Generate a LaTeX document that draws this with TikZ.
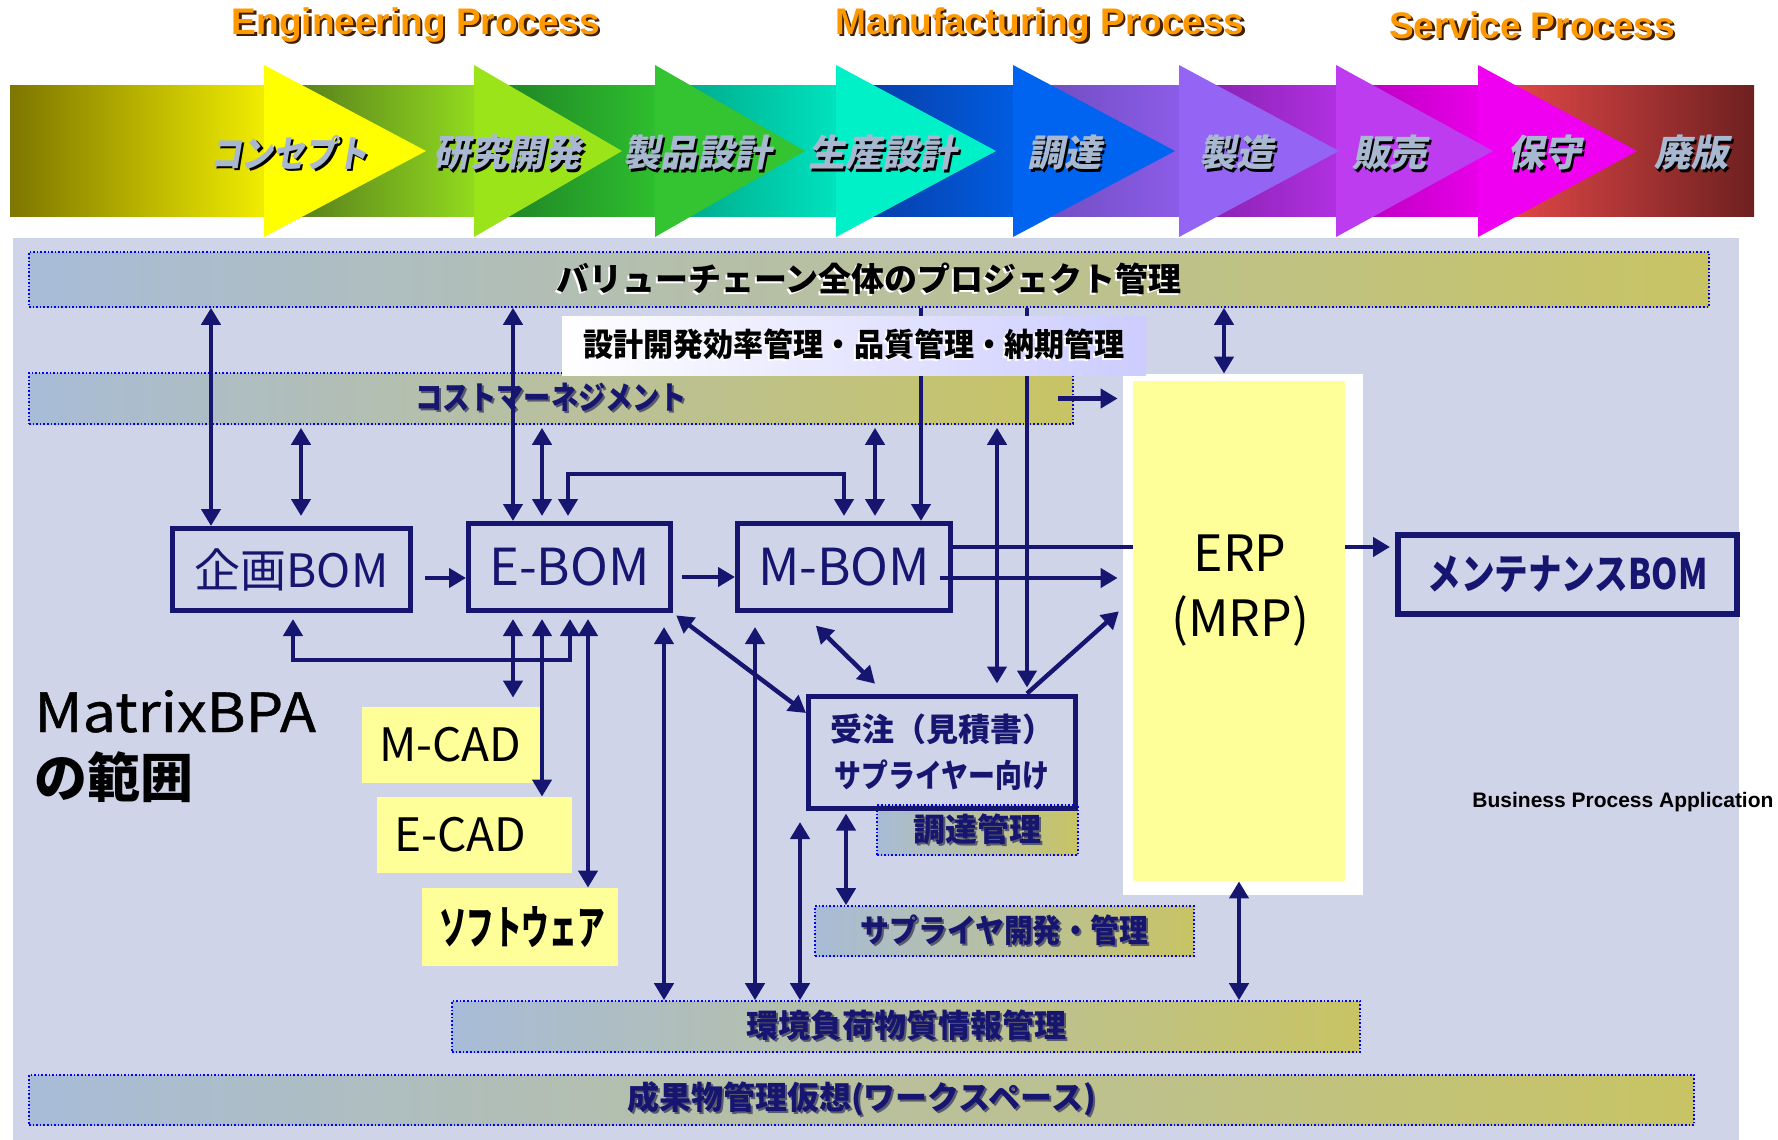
\documentclass[tikz,border=0pt]{standalone}
\usepackage{fontspec}
\usepackage{graphicx}
\setmainfont{Liberation Sans}
\newfontfamily\jp[CharacterWidth=Proportional]{Noto Sans CJK JP}
\newfontfamily\jpm[CharacterWidth=Proportional,FakeBold=0.8]{Noto Sans CJK JP}
\newfontfamily\jpb[CharacterWidth=Proportional]{Noto Sans CJK JP}
\newfontfamily\jpbf{Noto Sans CJK JP}
\newfontfamily\jpit[FakeSlant=0.2]{Noto Sans CJK JP}
\usetikzlibrary{arrows.meta}

\definecolor{navy}{RGB}{22,22,112}
\definecolor{panel}{RGB}{208,212,232}
\definecolor{barl}{RGB}{168,188,216}
\definecolor{barr}{RGB}{200,196,100}
\definecolor{mgmtr}{RGB}{204,204,255}
\definecolor{ylw}{RGB}{255,255,153}
\definecolor{ttlorange}{RGB}{255,153,0}
\definecolor{chevtxt}{RGB}{168,184,208}
\definecolor{shd}{RGB}{90,90,110}
% process band colours
\definecolor{a1l}{RGB}{125,118,0}   \definecolor{a1r}{RGB}{240,236,0}   \definecolor{a1h}{RGB}{255,255,0}
\definecolor{a2l}{RGB}{78,110,28}   \definecolor{a2r}{RGB}{145,218,30}  \definecolor{a2h}{RGB}{156,228,26}
\definecolor{a3l}{RGB}{30,122,36}   \definecolor{a3r}{RGB}{46,190,46}   \definecolor{a3h}{RGB}{52,196,50}
\definecolor{a4l}{RGB}{0,160,130}   \definecolor{a4r}{RGB}{0,226,190}   \definecolor{a4h}{RGB}{0,240,200}
\definecolor{a5l}{RGB}{10,56,156}   \definecolor{a5r}{RGB}{0,92,224}    \definecolor{a5h}{RGB}{0,100,240}
\definecolor{a6l}{RGB}{106,74,184}  \definecolor{a6r}{RGB}{140,92,232}  \definecolor{a6h}{RGB}{148,100,244}
\definecolor{a7l}{RGB}{128,32,168}  \definecolor{a7r}{RGB}{176,48,224}  \definecolor{a7h}{RGB}{190,60,240}
\definecolor{a8l}{RGB}{176,0,184}   \definecolor{a8r}{RGB}{232,0,232}   \definecolor{a8h}{RGB}{240,0,240}
\definecolor{a9l}{RGB}{240,76,76}   \definecolor{a9r}{RGB}{110,32,32}

\newcommand\shadowed[4]{\makebox[0pt][l]{\kern#2\raisebox{#3}{\color{#1}#4}}#4}

\tikzset{
  lnk/.style={draw=navy, line width=2.2pt},
  oneway/.style={lnk, -{Triangle[length=8.5pt,width=9.5pt]}},
  twoway/.style={lnk, {Triangle[length=8.5pt,width=9.5pt]}-{Triangle[length=8.5pt,width=9.5pt]}},
  bom/.style={draw=navy, line width=2.5pt, text=navy, inner sep=0, font=\jp\fontsize{23}{26}\selectfont},
  bar/.style={draw=blue, densely dotted, line width=0.8pt, left color=barl, right color=barr, inner sep=0, text=navy, font=\jpb\bfseries\fontsize{16}{18}\selectfont},
  ybox/.style={fill=ylw, inner xsep=8.5pt, inner ysep=0, align=left, font=\jp\fontsize{23}{26}\selectfont},
  chev/.style={font=\jpit\bfseries\fontsize{18.5}{22}\selectfont, text=chevtxt, inner sep=0},
  ttl/.style={font=\bfseries\fontsize{18.5}{22}\selectfont, text=ttlorange, inner sep=0},
}

\begin{document}
\begin{tikzpicture}[x=0.5pt,y=-0.5pt]
\useasboundingbox (0,0) rectangle (1778,1140);
\fill[white] (0,0) rectangle (1778,1140);

% process band
\fill[left color=a9l, right color=a9r] (1478,85) rectangle (1754,216);
\foreach \xs/\xb/\xt/\k in {1336/1478/1637/8, 1179/1336/1493/7, 1013/1179/1339/6, 836/1013/1175/5, 655/836/996/4, 474/655/805/3, 264/474/622/2, 10/264/426/1}{
  \fill[left color=a\k l, right color=a\k r] (\xs,85) rectangle (\xb,216);
  \fill[a\k h] (\xb,65) -- (\xt,151) -- (\xb,237) -- cycle;
}
\foreach \x/\w [count=\i] in {289/\scalebox{0.85}[1]{コンセプト}, 507/研究開発, 697/製品設計, 882/生産設計, 1064/調達, 1236/製造, 1389/販売, 1544/保守, 1691/廃版}
  \node[chev] (ph\i) at (\x,154) {\shadowed{black}{1.2pt}{-1.2pt}{\w}};

\node[ttl] (eng) at (416,26) {\shadowed{black!75!orange}{1.2pt}{-1.2pt}{Engineering Process}};
\node[ttl] (manu) at (1040,26) {\shadowed{black!75!orange}{1.2pt}{-1.2pt}{Manufacturing Process}};
\node[ttl] (serv) at (1532,26) {\shadowed{black!75!orange}{1.2pt}{-1.2pt}{Service Process}};

% scope panel
\fill[panel] (13,238) rectangle (1739,1140);

\node[bar, minimum width=840pt, minimum height=27.5pt, text=black, font=\jpb\bfseries\fontsize{16.5}{18}\selectfont] (topbar) at (869,279.5) {\shadowed{white}{-1pt}{-1pt}{バリューチェーン全体のプロジェクト管理}};
\node[bar, minimum width=522pt, minimum height=25.5pt] (costbar) at (551,398.5) {\shadowed{shd}{1pt}{-1pt}{\scalebox{0.85}[1]{コストマーネジメント}}};
\node[bar, minimum width=100.5pt, minimum height=25pt] (chotatsu) at (977.5,830) {\shadowed{shd}{1pt}{-1pt}{調達管理}};
\node[bar, minimum width=189.5pt, minimum height=25pt] (supplier) at (1004.5,931) {\shadowed{shd}{1pt}{-1pt}{\scalebox{0.9}[1]{サプライヤ開発・管理}}};
\node[bar, minimum width=454pt, minimum height=25.5pt] (kankyo) at (906,1026.5) {\shadowed{shd}{1pt}{-1pt}{環境負荷物質情報管理}};
\node[bar, minimum width=832.5pt, minimum height=25pt] (seika) at (861.5,1100) {\shadowed{shd}{1pt}{-1pt}{成果物管理仮想（ワークスペース）}};

\node[ybox, text width=72pt, minimum height=38pt] (mcad) at (451,745) {M-CAD};
\node[ybox, text width=80.5pt, minimum height=38pt] (ecad) at (474.5,835) {E-CAD};
\node[ybox, text width=81pt, minimum height=39pt, font=\jpb\bfseries\fontsize{23}{25}\selectfont] (soft) at (520,927) {\scalebox{0.6}[1]{ソフトウェア}};

\node[fill=white, minimum width=120pt, minimum height=260.5pt, inner sep=0] (erpw) at (1243,634.5) {};
\node[fill=ylw, minimum width=106pt, minimum height=250pt, inner sep=0] (erp) at (1239,631) {};
\node[font=\jp\fontsize{25}{32.5}\selectfont, align=center, inner sep=0] (erptxt) at (1240,591) {ERP\\（MRP）};

\node[bom, minimum width=119pt, minimum height=41pt] (kikaku) at (291.5,569.5) {企画BOM};
\node[bom, minimum width=101pt, minimum height=43.5pt, font=\jp\fontsize{25.5}{28}\selectfont] (ebom) at (569.5,567) {E-BOM};
\node[bom, minimum width=106.5pt, minimum height=43.5pt, font=\jp\fontsize{25.5}{28}\selectfont] (mbom) at (844,567) {M-BOM};
\node[bom, minimum width=133.5pt, minimum height=56pt, align=center, font=\jpbf\bfseries\fontsize{16}{23}\selectfont] (juchu) at (942,752) {受注（見積書）\\\scalebox{0.84}[1]{サプライヤー向け}};
\node[bom, line width=3pt, minimum width=169.5pt, minimum height=39.5pt, font=\jpb\bfseries\fontsize{21}{24}\selectfont] (maint) at (1567.5,574.5) {\scalebox{0.8}[1]{メンテナンスBOM}};

\node[anchor=base west, inner sep=0, font=\jpm\fontsize{27}{30}\selectfont] (mbpa1) at (34,732) {\scalebox{1.1}[1]{MatrixBPA}};
\node[anchor=base west, inner sep=0, font=\jpb\bfseries\fontsize{26.5}{30}\selectfont] (mbpa2) at (34,797) {の範囲};
\node[anchor=base west, inner sep=0, font=\bfseries\fontsize{10.5}{12}\selectfont] (bpa) at (1472,807) {Business Process Application};

% links to the project bar
\draw[twoway] (topbar.south -| 211,0) -- (kikaku.north -| 211,0);
\draw[twoway] (topbar.south -| 513,0) -- (ebom.north -| 513,0);
\draw[twoway] (topbar.south -| 1224,0) -- (erpw.north -| 1224,0);
\draw[oneway] (topbar.south -| 921,0) -- (mbom.north -| 921,0);
\draw[oneway, shorten >=3pt] (topbar.south -| 1027,0) -- (juchu.north -| 1027,0);

% links to cost management
\draw[twoway, shorten <=1.5pt, shorten >=5pt] (costbar.south -| 301,0) -- (kikaku.north -| 301,0);
\draw[twoway, shorten <=1.5pt, shorten >=2.5pt] (costbar.south -| 542,0) -- (ebom.north -| 542,0);
\draw[twoway, shorten <=1.5pt, shorten >=2.5pt] (costbar.south -| 875,0) -- (mbom.north -| 875,0);
\draw[twoway, shorten <=1.5pt, shorten >=5pt] (costbar.south -| 997,0) -- (juchu.north -| 997,0);
\draw[oneway, shorten >=2.5pt] ([xshift=-8pt]costbar.east) -- (costbar.east -| erpw.west);

% BOM chain
\draw[twoway, shorten <=2.5pt, shorten >=2.5pt] (ebom.north -| 568,0) -- (568,474) -- (844,474) -- (mbom.north -| 844,0);
\draw[oneway, shorten <=6pt] ([yshift=-4.25pt]kikaku.east) -- ([yshift=-4.25pt]kikaku.east -| ebom.west);
\draw[oneway, shorten <=4.5pt] ([yshift=-5pt]ebom.east) -- ([yshift=-5pt]ebom.east -| mbom.west);
\draw[lnk] ([yshift=10pt]mbom.east) -- ([yshift=10pt]mbom.east -| erp.west);
\draw[oneway, shorten >=2.5pt] ([xshift=-6.75pt,yshift=-5.5pt]mbom.east) -- ([yshift=-5.5pt]mbom.east -| erpw.west);
\draw[oneway, shorten >=2.5pt] ([yshift=10pt]mbom.east -| erp.east) -- ([yshift=10pt]mbom.east -| maint.west);
\draw[twoway, shorten <=3pt, shorten >=3pt] (kikaku.south -| 293,0) -- (293,660) -- (570,660) -- (ebom.south -| 570,0);

% order box
\draw[oneway, shorten >=2.5pt] (juchu.north -| 1027,0) -- (erpw.west |- 0,608);
\draw[twoway, shorten <=2pt] (ebom.south east) -- (juchu.164);
\draw[twoway, shorten <=9pt, shorten >=7pt] (mbom.south -| 803,0) -- (juchu.north -| 885,0);
\draw[twoway, shorten <=1.5pt] (juchu.south -| 846,0) -- (supplier.north -| 846,0);

% CAD and environment links
\draw[twoway, shorten <=3pt, shorten >=4.5pt] (ebom.south -| 513,0) -- (mcad.north -| 513,0);
\draw[twoway, shorten <=3pt] (ebom.south -| 542,0) -- (ecad.north -| 542,0);
\draw[twoway, shorten <=3pt] (ebom.south -| 588,0) -- (soft.north -| 588,0);
\draw[twoway, shorten <=7pt] (ebom.south -| 664,0) -- (kankyo.north -| 664,0);
\draw[twoway, shorten <=7pt] (mbom.south -| 755,0) -- (kankyo.north -| 755,0);
\coordinate (envtop) at (800,822);
\draw[twoway] (envtop) -- (kankyo.north -| envtop);
\draw[twoway] (erp.south) -- (kankyo.north -| erp.south);

\node[left color=white, right color=mgmtr, minimum width=292pt, minimum height=29.5pt, inner sep=0, font=\jpb\bfseries\fontsize{16}{18}\selectfont] (mgmt) at (854,345.5) {\shadowed{white}{-1pt}{-1pt}{\scalebox{0.94}[1]{設計開発効率管理・品質管理・納期管理}}};
\end{tikzpicture}
\end{document}
